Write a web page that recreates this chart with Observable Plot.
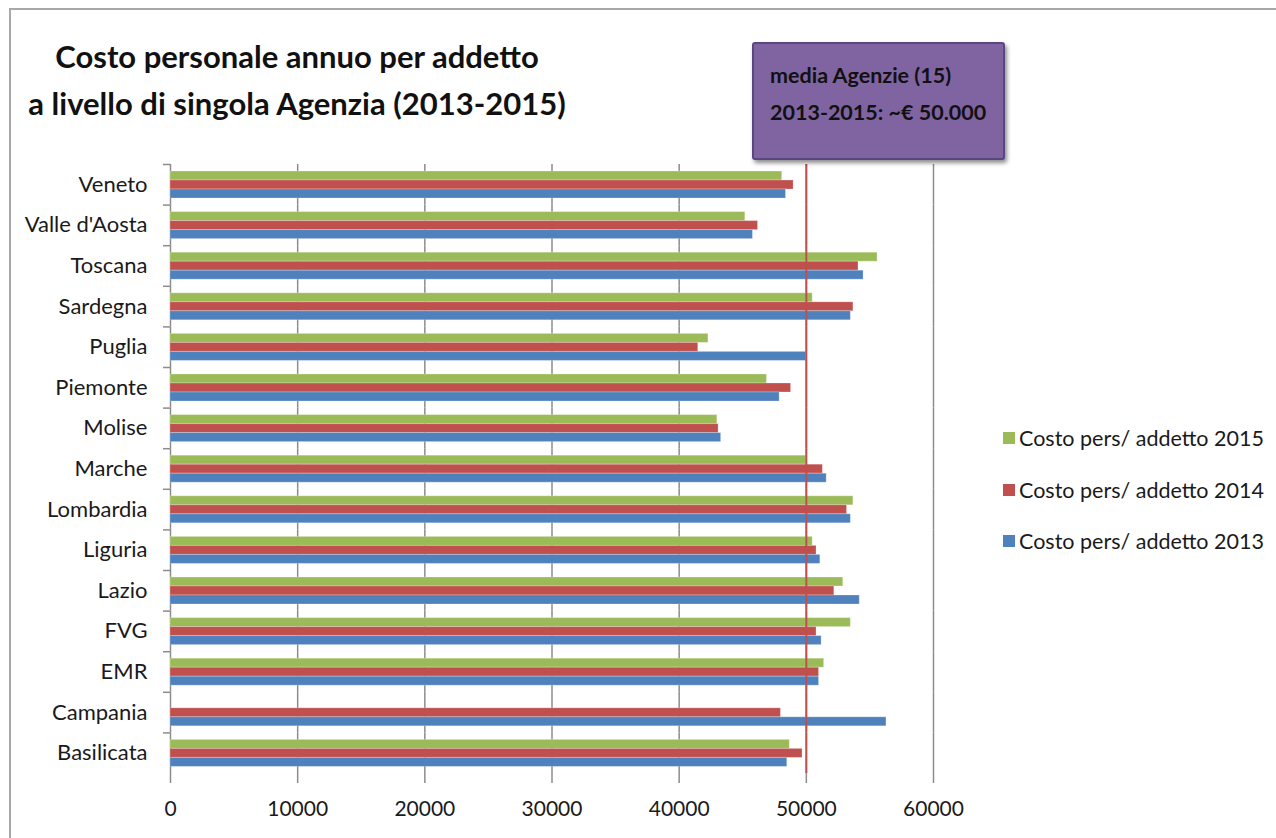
<!DOCTYPE html>
<html><head><meta charset="utf-8">
<script src="https://cdn.jsdelivr.net/npm/d3@7"></script>
<script src="https://cdn.jsdelivr.net/npm/@observablehq/plot@0.6"></script>
<style>
body{margin:0;background:#fff;}
#wrap{position:relative;width:1276px;height:838px;overflow:hidden;background:#fff;font-family:Lato,"Open Sans",sans-serif;color:#1a1a1a;}
#frame{position:absolute;left:9px;top:8px;width:1300px;height:900px;border-left:2px solid #a8a8a8;border-top:2px solid #a8a8a8;}
#title{position:absolute;left:8px;width:578px;top:33px;text-align:center;font-weight:700;font-size:31px;line-height:47px;color:#111;}
#plot{position:absolute;left:0;top:145px;}
#note{position:absolute;left:752px;top:42px;width:253px;height:118px;background:#8064A2;border:2px solid #5b4780;border-radius:3px;box-shadow:2px 3px 4px rgba(0,0,0,0.45);box-sizing:border-box;}
#note div{position:absolute;left:16px;font-weight:700;font-size:21.5px;line-height:26px;color:#111;white-space:nowrap;}
#legend{position:absolute;left:1003px;top:424px;}
.li{display:flex;align-items:center;height:28px;margin-bottom:23.5px;font-size:21.5px;white-space:nowrap;}
.sw{width:12px;height:12px;margin-right:4px;}
</style></head>
<body><div id="wrap">
<div id="frame"></div>
<div id="title"></div>
<div id="plot"></div>
<div id="note"></div>
<div id="legend"></div>
</div>
<script>
const titleLines = ["Costo personale annuo per addetto", "a livello di singola Agenzia (2013-2015)"];
const noteLines = ["media Agenzie (15)", "2013-2015: ~€ 50.000"];
const regions = ["Veneto","Valle d'Aosta","Toscana","Sardegna","Puglia","Piemonte","Molise","Marche","Lombardia","Liguria","Lazio","FVG","EMR","Campania","Basilicata"];
const years = [2015, 2014, 2013];
const seriesNames = ["Costo pers/ addetto 2015","Costo pers/ addetto 2014","Costo pers/ addetto 2013"];
const colors = ["#9BBB59","#C0504D","#4F81BD"];
const v2015 = [48100,45200,55600,50500,42300,46900,43000,50000,53700,50500,52900,53500,51400,null,48700];
const v2014 = [49000,46200,54100,53700,41500,48800,43100,51300,53200,50800,52200,50800,51000,48000,49700];
const v2013 = [48400,45800,54500,53500,50000,47900,43300,51600,53500,51100,54200,51200,51000,56300,48500];
const xTicks = [0,10000,20000,30000,40000,50000,60000];
const mediaValue = 50000;

document.getElementById("title").innerHTML = titleLines.map(t=>`<div>${t}</div>`).join("");
const note = document.getElementById("note");
noteLines.forEach((t,i)=>{const d=document.createElement("div");d.textContent=t;d.style.top=(i===0?18:55)+"px";note.appendChild(d);});
const legend = document.getElementById("legend");
seriesNames.forEach((s,i)=>{const d=document.createElement("div");d.className="li";d.innerHTML=`<span class="sw" style="background:${colors[i]}"></span><span>${s}</span>`;legend.appendChild(d);});

const seriesVals = [v2015, v2014, v2013];
const rows = [];
regions.forEach((r,i)=>years.forEach((y,k)=>{const v=seriesVals[k][i]; if(v!=null) rows.push({region:r, year:y, value:v});}));

const chart = Plot.plot({
  width: 990, height: 678,
  marginLeft: 170, marginRight: 57, marginTop: 19, marginBottom: 50,
  style: {fontFamily: "Lato, sans-serif", background: "transparent", color: "#1a1a1a", overflow: "visible"},
  x: {domain: [0, 60000]},
  fy: {domain: regions, padding: 0, round: false},
  y: {domain: years, paddingInner: 0, paddingOuter: 0.62},
  color: {domain: years, range: colors},
  marks: [
    Plot.gridX(xTicks, {stroke: "#8c8c8c", strokeOpacity: 1, strokeWidth: 1.5}),
    Plot.barX(rows, {x: "value", y: "year", fy: "region", fill: "year", stroke: "#ffffff", strokeOpacity: 0.25, strokeWidth: 1}),
    Plot.ruleX([mediaValue], {stroke: "#C0504D", strokeWidth: 2}),
    Plot.axisX({ticks: xTicks, tickSize: 10, tickPadding: 18, tickFormat: d => String(d), fontSize: 21, stroke: "#8c8c8c", strokeWidth: 1.5, fill: "#1a1a1a", line: true, label: null}),
    Plot.axisY({label: null, ticks: [], tickSize: 0}),
    Plot.axisFy({anchor: "left", tickSize: 0, tickPadding: 23, fontSize: 22, fill: "#1a1a1a", label: null}),
    Plot.axisFy({anchor: "left", tickSize: 7, tickFormat: () => "", stroke: "#8c8c8c", strokeWidth: 1.5, dy: -20.3, label: null})
  ]
});
document.getElementById("plot").appendChild(chart);
</script>
</body></html>
